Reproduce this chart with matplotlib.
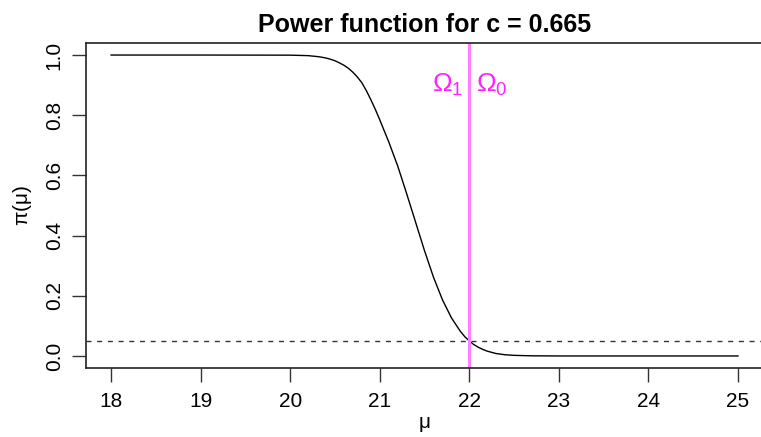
import matplotlib
matplotlib.use("Agg")
import matplotlib.pyplot as plt

plt.rcParams['font.family'] = ['Liberation Sans', 'DejaVu Sans']
plt.rcParams['mathtext.fontset'] = 'custom'
plt.rcParams['mathtext.rm'] = 'Liberation Sans'
plt.rcParams['mathtext.it'] = 'Liberation Sans'

# Values
mu = [18.0, 19.0, 20.0, 20.2, 20.3, 20.35, 20.4, 20.45, 20.5, 20.55, 20.6, 20.65,
      20.7, 20.75, 20.8, 20.85, 20.9, 20.95,
      21.0, 21.1, 21.2, 21.3, 21.4, 21.5, 21.6, 21.7, 21.8, 21.9, 21.95,
      22.0, 22.05, 22.1, 22.15, 22.2, 22.3, 22.4, 22.5, 22.7, 23.0, 25.0]
power = [1.0, 1.0, 0.9996, 0.998, 0.995, 0.993, 0.990, 0.986, 0.981, 0.974, 0.966, 0.956,
         0.943, 0.927, 0.908, 0.882, 0.852, 0.820,
         0.785, 0.712, 0.632, 0.540, 0.445, 0.350, 0.262, 0.187, 0.127, 0.082, 0.064,
         0.050, 0.038, 0.029, 0.022, 0.016, 0.008, 0.004, 0.002, 0.0005, 0.0, 0.0]
alpha_level = 0.05
mu0 = 22
title = "Power function for c = 0.665"
xticks = [18, 19, 20, 21, 22, 23, 24, 25]
yticks = [0.0, 0.2, 0.4, 0.6, 0.8, 1.0]

W, H = 761, 437
fig = plt.figure(figsize=(W / 100, H / 100), dpi=100)
left, right, top, bottom = 86, 763, 43, 368
ax = fig.add_axes([left / W, 1 - bottom / H, (right - left) / W, (bottom - top) / H])

ax.plot(mu, power, color='black', lw=1.0)
ax.axhline(alpha_level, color='#333333', lw=1.0, linestyle=(0, (3.6, 4.1)))
ax.axvline(mu0, color='#ff80ff', lw=2.2)
ax.text(mu0 - 0.07, 0.9, r'$\Omega_1$', color='#ff22ff', fontsize=19,
        ha='right', va='center')
ax.text(mu0 + 0.07, 0.9, r'$\Omega_0$', color='#ff22ff', fontsize=19,
        ha='left', va='center')

ax.set_xlim(17.72, 25.28)
ax.set_ylim(-0.04, 1.04)
ax.set_xticks(xticks)
ax.set_xticklabels([str(t) for t in xticks])
ax.set_yticks(yticks)
ax.set_yticklabels([f"{t:.1f}" for t in yticks], rotation=90, va='center')
ax.tick_params(axis='both', length=10, width=1.0, labelsize=15, color='#333333')
ax.tick_params(axis='x', pad=7)
ax.tick_params(axis='y', pad=6)
for s in ax.spines.values():
    s.set_linewidth(1.2)
    s.set_color('#222222')

ax.set_title(title, fontsize=18, fontweight='bold', pad=8)
fig.text(424 / W, 1 - 425 / H, r'$\mathregular{\mu}$', fontsize=15, ha='center', va='center')
fig.text(22 / W, 1 - 205 / H, r'$\mathregular{\pi(\mu)}$', fontsize=15, ha='center',
         va='center', rotation=90)

fig.savefig('out.png', dpi=100)
